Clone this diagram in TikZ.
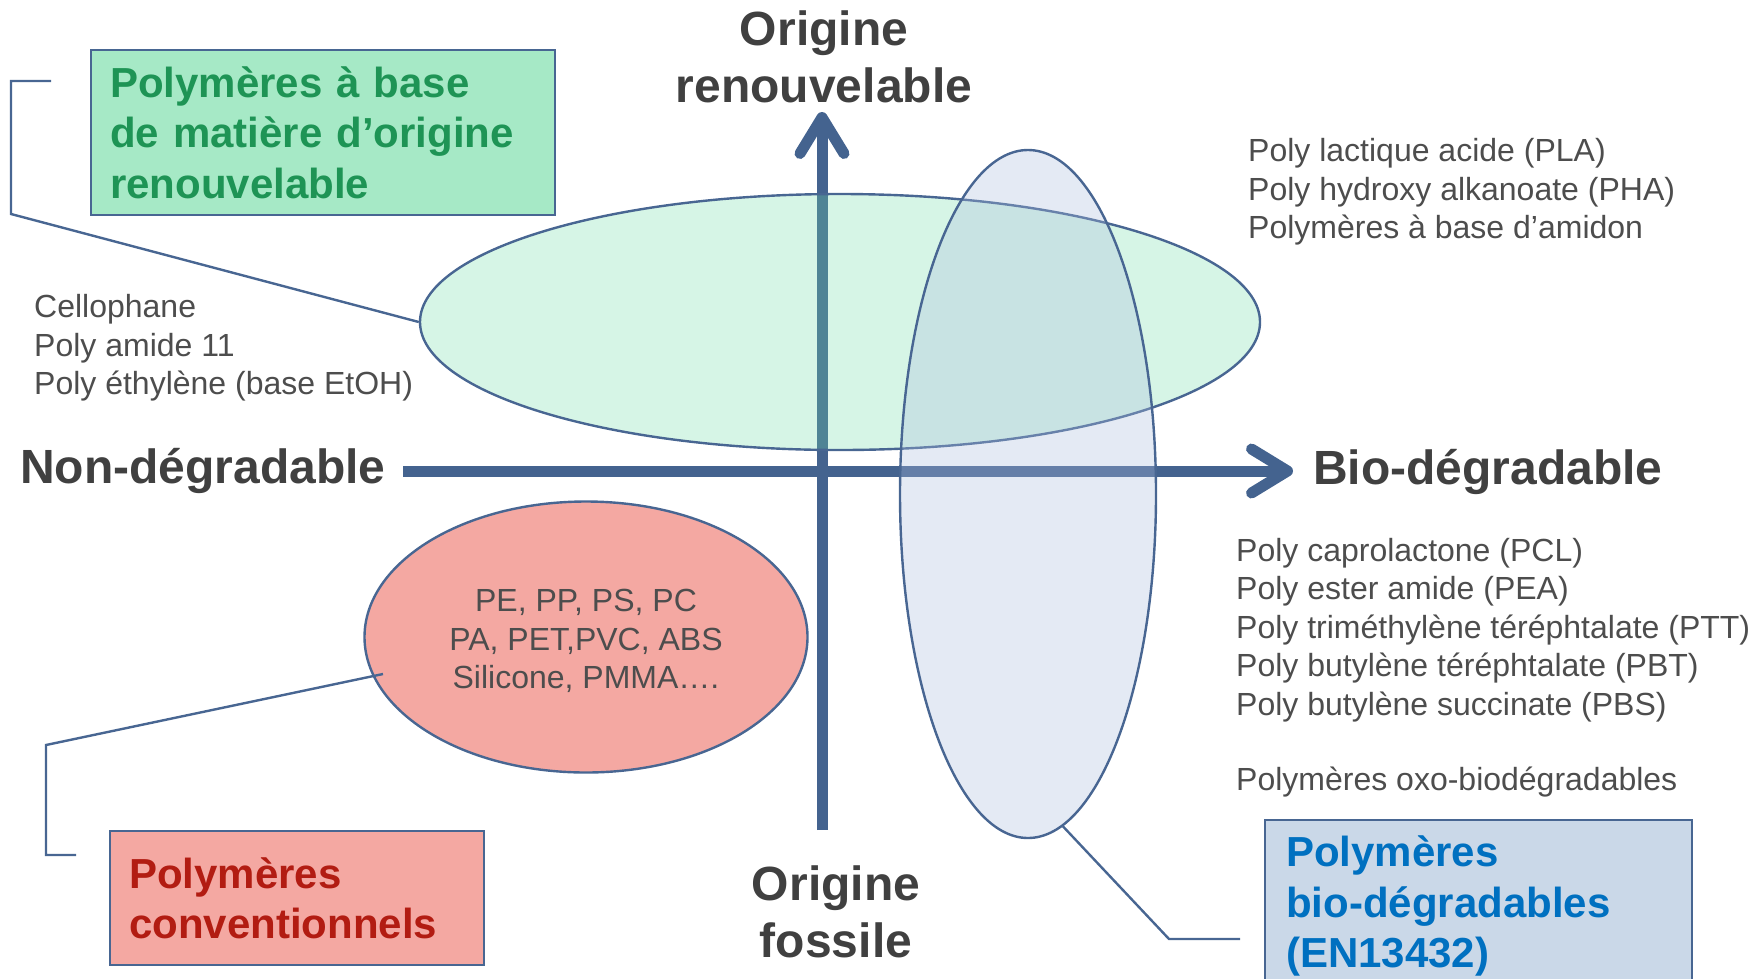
\documentclass[tikz,border=0pt]{standalone}
\usepackage{fontspec}
\setmainfont{Liberation Sans}
\usepackage{xcolor}
\usetikzlibrary{shapes.geometric, arrows.meta, positioning}

\definecolor{axisblue}{RGB}{68,99,143}
\definecolor{edgeblue}{RGB}{72,102,146}
\definecolor{txtgray}{RGB}{77,77,77}
\definecolor{lblgray}{RGB}{64,64,64}
\definecolor{mint}{RGB}{108,219,165}
\definecolor{lilac}{RGB}{171,189,221}
\definecolor{salmon}{RGB}{244,168,162}
\definecolor{greenbox}{RGB}{166,233,198}
\definecolor{greentxt}{RGB}{30,148,85}
\definecolor{redtxt}{RGB}{178,28,18}
\definecolor{bluebox}{RGB}{202,216,232}
\definecolor{bluetxt}{RGB}{0,112,192}

\begin{document}
\begin{tikzpicture}[x=1pt, y=-1pt,
    every node/.style={inner sep=0pt},
    axis/.style={line width=11pt, axisblue, -{Straight Barb[length=36pt, width=44pt, round]}},
    zone/.style={ellipse, draw=edgeblue, line width=2.4pt},
    plain/.style={font=\fontsize{32}{38.5}\selectfont, text=txtgray, align=left},
    axislabel/.style={font=\fontsize{48}{57}\selectfont\bfseries, text=lblgray, align=center},
    titlebox/.style={draw=edgeblue, line width=2.4pt, anchor=north west, inner xsep=19pt,
                     font=\fontsize{42}{50.6}\selectfont\bfseries, align=left},
    callout/.style={draw=edgeblue, line width=2.4pt}]
    \useasboundingbox (0,0) rectangle (1763,978);
    \clip (0,0) rectangle (1763,978);

    % Axes
    \coordinate (fossil) at (822,830);
    \coordinate (renew) at (822,112);
    \coordinate (nondeg) at (403,471);
    \coordinate (biodeg) at (1293,471);
    \draw[axis] (fossil) -- (renew);
    \draw[axis] (nondeg) -- (biodeg);

    % Zones
    \node[zone, fill=mint, fill opacity=0.28, minimum width=840pt, minimum height=256pt] (renewell) at (840,322) {};
    \node[zone, fill=lilac, fill opacity=0.32, minimum width=256pt, minimum height=688pt] (bioell) at (1028,494) {};
    \node[zone, fill=salmon, minimum width=443pt, minimum height=271pt] (fossilell) at (586,637) {};
    \node[plain, align=center] (fossiltxt) at (586,641) {PE, PP, PS, PC\\PA, PET,PVC, ABS\\Silicone, PMMA….};

    % Axis labels
    \node[axislabel] (toplbl) at (824,57) {Origine\\renouvelable};
    \node[axislabel] (botlbl) at (836,912) {Origine\\fossile};
    \node[axislabel, anchor=west] (leftlbl) at (20,471) {Non-dégradable};
    \node[axislabel, anchor=west] (rightlbl) at (1313,472) {Bio-dégradable};

    % Examples
    \node[plain, anchor=west] (leftlist) at (34,348) {Cellophane\\Poly amide 11\\Poly éthylène (base EtOH)};
    \node[plain, anchor=west] (toplist) at (1248,192) {Poly lactique acide (PLA)\\Poly hydroxy alkanoate (PHA)\\Polymères à base d’amidon};
    \node[plain, anchor=west] (botlist) at (1236,630) {Poly caprolactone (PCL)\\Poly ester amide (PEA)\\Poly triméthylène téréphtalate (PTT)\\Poly butylène téréphtalate (PBT)\\Poly butylène succinate (PBS)};
    \node[plain, anchor=west] (oxolist) at (1236,782) {Polymères oxo-biodégradables};

    % Title boxes
    \node[titlebox, fill=greenbox, text=greentxt, text width=426pt, minimum height=165pt] (renewbox) at (90,49)
        {Polymères à base\\de matière d’origine\\renouvelable};
    \node[titlebox, fill=salmon, text=redtxt, text width=336pt, minimum height=134pt] (fossilbox) at (109,830)
        {Polymères\\conventionnels};
    \node[titlebox, fill=bluebox, text=bluetxt, inner xsep=21pt, text width=385pt, minimum height=172pt] (biobox) at (1264,819)
        {Polymères\\bio-dégradables\\(EN13432)};

    % Callouts
    \coordinate (renewend) at (51,81);
    \coordinate (fossilend) at (76,855);
    \coordinate (bioend) at (1240,939);
    \coordinate (fossilpin) at (383,674);
    \draw[callout] (renewend) -- (11,81) -- (11,214) -- (renewell.west);
    \draw[callout] (fossilpin) -- (46,745) -- (46,855) -- (fossilend);
    \draw[callout] (bioell.276) -- (1169,939) -- (bioend);
\end{tikzpicture}
\end{document}
